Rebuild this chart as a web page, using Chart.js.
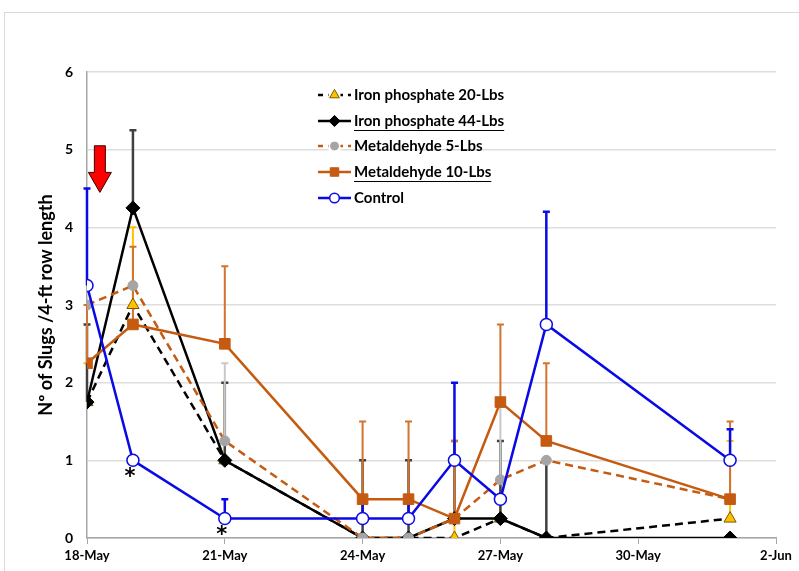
<!DOCTYPE html>
<html><head><meta charset="utf-8">
<script src="https://cdn.jsdelivr.net/npm/chart.js@4.4.0/dist/chart.umd.min.js"></script>
<style>html,body{margin:0;padding:0;background:#fff;}#wrap{position:relative;width:799px;height:571px;}</style>
</head><body><div id="wrap"><canvas id="c" width="799" height="571"></canvas></div>
<script>
// ---- data ----
const tickLabels = ['18-May','21-May','24-May','27-May','30-May','2-Jun'];
const sampleDays = [0, 1, 3, 6, 7, 8, 9, 10, 14]; // days after 18-May
const seriesNames = ['Iron phosphate 20-Lbs','Iron phosphate 44-Lbs','Metaldehyde 5-Lbs','Metaldehyde 10-Lbs','Control'];
const ironPhosphate20    = [1.75, 3.00, 1.00, 0.00, 0.00, 0.00, 0.25, 0.00, 0.25];
const ironPhosphate20Err = [0.50, 1.00, 1.00, 0.00, 0.00, 0.25, 0.50, 0.00, 1.00];
const ironPhosphate44    = [1.75, 4.25, 1.00, 0.00, 0.00, 0.25, 0.25, 0.00, 0.00];
const ironPhosphate44Err = [1.00, 1.00, 1.00, 1.00, 1.00, 1.00, 1.00, 1.00, 0.00];
const metaldehyde5       = [3.00, 3.25, 1.25, 0.00, 0.00, 0.25, 0.75, 1.00, 0.50];
const metaldehyde5Err    = [0.00, 0.00, 1.00, 0.00, 0.00, 0.00, 1.00, 0.00, 0.50];
const metaldehyde10      = [2.25, 2.75, 2.50, 0.50, 0.50, 0.25, 1.75, 1.25, 0.50];
const metaldehyde10Err   = [0.75, 1.00, 1.00, 1.00, 1.00, 1.00, 1.00, 1.00, 1.00];
const control            = [3.25, 1.00, 0.25, 0.25, 0.25, 1.00, 0.50, 2.75, 1.00];
const controlErr         = [1.25, 0.00, 0.25, 0.25, 0.25, 1.00, 0.00, 1.45, 0.40];
const significantDays    = [1, 3]; // asterisks under Control
// red arrow (application date), in data units
const arrowDay = 0.28, arrowTop = 5.05, arrowTip = 4.45;

const toPts = vals => sampleDays.map((d, i) => ({x: d, y: vals[i]}));
const ORANGE = '#C55A11', BLUE = '#0A0AE6', GOLD = '#FFC000';

const datasets = [
  {label: seriesNames[0], data: toPts(ironPhosphate20), err: ironPhosphate20Err, errColor: GOLD, errWidth: 2,
   borderColor: '#000', borderWidth: 2.5, borderDash: [8,5], pointStyle: 'triangle', pointRadius: 7,
   pointBackgroundColor: GOLD, pointBorderColor: '#7a5a00', pointBorderWidth: 1, order: 4},
  {label: seriesNames[1], data: toPts(ironPhosphate44), err: ironPhosphate44Err, errColor: '#404040', errWidth: 2.5,
   borderColor: '#000', borderWidth: 2.5, pointStyle: 'rectRot', pointRadius: 7,
   pointBackgroundColor: '#000', pointBorderColor: '#000', pointBorderWidth: 1, order: 3},
  {label: seriesNames[2], data: toPts(metaldehyde5), err: metaldehyde5Err, errColor: '#C8C8C8', errWidth: 2,
   borderColor: ORANGE, borderWidth: 2.5, borderDash: [8,5], pointStyle: 'circle', pointRadius: 5,
   pointBackgroundColor: '#A5A5A5', pointBorderColor: '#A5A5A5', pointBorderWidth: 1, order: 2},
  {label: seriesNames[3], data: toPts(metaldehyde10), err: metaldehyde10Err, errColor: '#D2732E', errWidth: 2,
   borderColor: ORANGE, borderWidth: 2.5, pointStyle: 'rect', pointRadius: 7.5,
   pointBackgroundColor: ORANGE, pointBorderColor: ORANGE, pointBorderWidth: 1, order: 1},
  {label: seriesNames[4], data: toPts(control), err: controlErr, errColor: BLUE, errWidth: 2.5,
   borderColor: BLUE, borderWidth: 2.5, pointStyle: 'circle', pointRadius: 6,
   pointBackgroundColor: '#fff', pointBorderColor: BLUE, pointBorderWidth: 1.5, order: 0}
];

const framePlugin = {
  id: 'frame',
  beforeDraw(chart) {
    const c = chart.ctx; c.save();
    c.strokeStyle = '#D9D9D9'; c.lineWidth = 1;
    c.strokeRect(4.5, 12.5, 900, 700);
    c.restore();
  }
};

const errorBarPlugin = {
  id: 'errbars',
  beforeDatasetsDraw(chart) {
    const c = chart.ctx, ys = chart.scales.y;
    c.save();
    chart.data.datasets.forEach((ds, i) => {
      const meta = chart.getDatasetMeta(i);
      meta.data.forEach((el, j) => {
        const e = ds.err[j];
        if (!e) return;
        const yTop = ys.getPixelForValue(ds.data[j].y + e);
        c.strokeStyle = ds.errColor; c.lineWidth = ds.errWidth;
        c.beginPath();
        c.moveTo(el.x, el.y); c.lineTo(el.x, yTop);
        c.moveTo(el.x - 3.5, yTop); c.lineTo(el.x + 3.5, yTop);
        c.stroke();
      });
    });
    c.restore();
  }
};

const decoPlugin = {
  id: 'deco',
  afterDatasetsDraw(chart) {
    const c = chart.ctx, xs = chart.scales.x, ys = chart.scales.y;
    c.save();
    // asterisks
    c.fillStyle = '#000'; c.font = 'bold 21px "DejaVu Sans", Lato, sans-serif';
    c.textAlign = 'center'; c.textBaseline = 'middle';
    significantDays.forEach(d => {
      const idx = sampleDays.indexOf(d);
      const px = xs.getPixelForValue(d) - 3, py = ys.getPixelForValue(control[idx]) + 17;
      c.fillText('*', px, py);
    });
    // red arrow
    const ax = xs.getPixelForValue(arrowDay), t = ys.getPixelForValue(arrowTop), b = ys.getPixelForValue(arrowTip);
    const hs = b - 20;
    c.beginPath();
    c.moveTo(ax - 5.5, t); c.lineTo(ax + 5.5, t); c.lineTo(ax + 5.5, hs); c.lineTo(ax + 11.5, hs);
    c.lineTo(ax, b); c.lineTo(ax - 11.5, hs); c.lineTo(ax - 5.5, hs); c.closePath();
    c.fillStyle = '#FF0000'; c.fill();
    c.strokeStyle = '#3a0000'; c.lineWidth = 1; c.stroke();
    c.restore();
  }
};

const legendPlugin = {
  id: 'customLegend',
  afterDraw(chart) {
    const c = chart.ctx;
    c.save();
    const x0 = 318, x1 = 351, tx = 354, rowY = [95, 121, 146, 172, 198];
    const underline = [false, true, false, true, false];
    c.font = 'bold 15px Lato, "Liberation Sans", sans-serif';
    c.textBaseline = 'middle'; c.textAlign = 'left';
    chart.data.datasets.forEach((ds, i) => {
      const y = rowY[i];
      c.strokeStyle = ds.borderColor; c.lineWidth = ds.borderWidth;
      c.setLineDash(ds.borderDash ? [5, 5] : []);
      c.beginPath(); c.moveTo(x0, y); c.lineTo(x1, y); c.stroke();
      c.setLineDash([]);
      const cx = (x0 + x1) / 2;
      if (ds.borderDash) { c.fillStyle = '#fff'; c.fillRect(cx - 6, y - 6, 12, 12); }
      c.fillStyle = ds.pointBackgroundColor; c.strokeStyle = ds.pointBorderColor; c.lineWidth = ds.pointBorderWidth;
      Chart.helpers.drawPoint(c, {pointStyle: ds.pointStyle, radius: ds.pointRadius * 0.8, borderWidth: ds.pointBorderWidth}, cx, y);
      c.fillStyle = '#000';
      c.fillText(ds.label, tx, y);
      if (underline[i]) {
        const w = c.measureText(ds.label).width;
        c.strokeStyle = '#000'; c.lineWidth = 1.2;
        c.beginPath(); c.moveTo(tx, y + 9.5); c.lineTo(tx + w, y + 9.5); c.stroke();
      }
    });
    c.restore();
  }
};

new Chart(document.getElementById('c'), {
  type: 'line',
  data: {datasets},
  options: {
    responsive: false, animation: false, devicePixelRatio: 1,
    layout: {padding: {left: 0, top: 72, right: 23, bottom: 0}},
    elements: {line: {tension: 0}},
    plugins: {legend: {display: false}, tooltip: {enabled: false}},
    scales: {
      x: {
        type: 'linear', min: 0, max: 15,
        afterFit(s) { s.height = 33; },
        afterBuildTicks(s) { s.ticks = tickLabels.map((_, i) => ({value: i * 3})); },
        ticks: {callback: (v) => tickLabels[Math.round(v / 3)], color: '#000', padding: 4, maxRotation: 0,
                font: {family: 'Lato, "Liberation Sans", sans-serif', size: 13, weight: 'bold'}},
        grid: {drawOnChartArea: false, drawTicks: true, tickLength: 6, color: '#A6A6A6'},
        border: {color: '#A6A6A6', width: 1.5}
      },
      y: {
        min: 0, max: 6,
        afterFit(s) { s.width = 87; },
        ticks: {stepSize: 1, color: '#000', padding: 14,
                font: {family: 'Lato, "Liberation Sans", sans-serif', size: 14, weight: 'bold'}},
        grid: {color: '#DEDEDE', lineWidth: 1.5, drawTicks: false},
        border: {color: '#A6A6A6', width: 1.5},
        title: {display: true, text: 'Nº of Slugs /4-ft row length', color: '#000',
                font: {family: 'Lato, "Liberation Sans", sans-serif', size: 18, weight: 'bold'},
                padding: {top: 35, bottom: 0}}
      }
    }
  },
  plugins: [framePlugin, errorBarPlugin, decoPlugin, legendPlugin]
});
</script></body></html>
